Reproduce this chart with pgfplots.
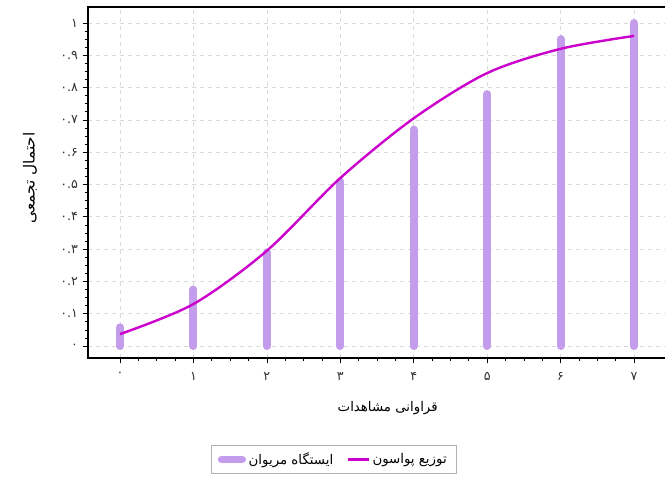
\documentclass[border=0pt]{standalone}
\usepackage{pgfplots}
\pgfplotsset{compat=1.18}
\usepackage{fontspec}
\setmainfont{DejaVu Sans}
\newfontfamily\arabicfont[Script=Arabic]{DejaVu Sans}
\TeXXeTstate=1
\definecolor{barcol}{RGB}{196,156,236}
\definecolor{linecol}{RGB}{204,0,204}
\definecolor{gridcol}{RGB}{218,218,218}
\begin{document}
\begin{tikzpicture}
\begin{axis}[
  at={(0pt,0pt)}, anchor=south west,
  scale only axis,
  width=436.5pt, height=263.25pt,
  xmin=-0.436, xmax=7.49,
  ymin=-0.037, ymax=1.0495,
  xtick={0,1,2,3,4,5,6,7},
  xticklabels={{\arabicfont ۰},{\arabicfont ۱},{\arabicfont ۲},{\arabicfont ۳},{\arabicfont ۴},{\arabicfont ۵},{\arabicfont ۶},{\arabicfont ۷}},
  ytick={0,0.1,0.2,0.3,0.4,0.5,0.6,0.7,0.8,0.9,1},
  yticklabels={{\arabicfont ۰},{\arabicfont ۰.۱},{\arabicfont ۰.۲},{\arabicfont ۰.۳},{\arabicfont ۰.۴},{\arabicfont ۰.۵},{\arabicfont ۰.۶},{\arabicfont ۰.۷},{\arabicfont ۰.۸},{\arabicfont ۰.۹},{\arabicfont ۱}},
  minor x tick num=3, minor y tick num=3,
  tick align=outside, xtick pos=left, ytick pos=left,
  major tick length=4pt, minor tick length=2pt,
  tick style={black, line width=0.5pt},
  ticklabel style={font=\fontsize{9.5}{10}\selectfont, text=black!80},
  xticklabel style={yshift=-3pt},
  grid=major,
  major grid style={gridcol, dashed, line width=0.5pt},
  axis line style={black, line width=1.3pt},
  xlabel={\arabicfont\beginR قراوانی مشاهدات\endR},
  ylabel={\arabicfont\beginR احتمال تجمعی\endR},
  label style={font=\fontsize{10}{11}\selectfont},
  xlabel style={at={(axis description cs:0.515,-0.1425)}, anchor=center},
  ylabel style={at={(axis description cs:-0.0997,0.513)}, anchor=center, font=\fontsize{11.5}{12}\selectfont},
  legend columns=2,
  legend style={at={(axis description cs:0.422,-0.289)}, anchor=center,
    draw=gray!60, line width=0.6pt, font=\fontsize{10}{11}\selectfont,
    inner xsep=5pt, inner ysep=3pt,
    /tikz/every even column/.append style={column sep=8pt}},
  clip=false,
]
\addplot+[ycomb, no marks, color=barcol, line width=6pt, line cap=round,
  legend image code/.code={\draw[barcol, line width=5.5pt, line cap=round] (0pt,0pt) -- (0.55cm,0pt);}]
  coordinates {(0,0.058) (1,0.175) (2,0.29) (3,0.51) (4,0.67) (5,0.78) (6,0.95) (7,1.0)};
\addlegendentry{\arabicfont\beginR ایستگاه مریوان\endR}
\addplot[smooth, color=linecol, line width=1.8pt,
  legend image code/.code={\draw[linecol, line width=1.8pt] (0pt,0pt) -- (0.55cm,0pt);}]
  coordinates {(0,0.037) (1,0.13) (2,0.295) (3,0.52) (4,0.705) (5,0.845) (6,0.92) (7,0.96)};
\addlegendentry{\arabicfont\beginR توزیع پواسون\endR}
\end{axis}
\pgfresetboundingbox
\path[use as bounding box] (-66pt,-90.75pt) rectangle (432.75pt,268.5pt);
\end{tikzpicture}
\end{document}
